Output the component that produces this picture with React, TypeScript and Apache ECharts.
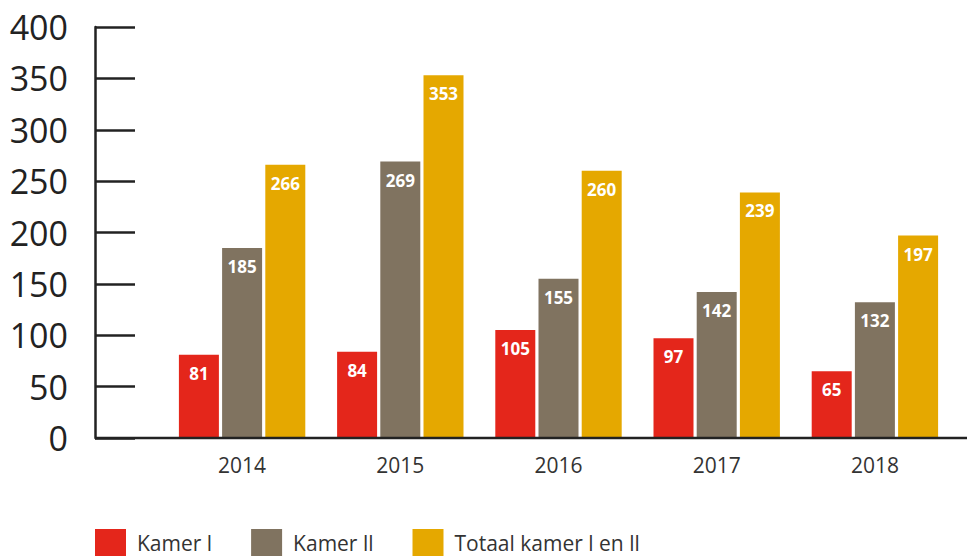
import React, { useEffect, useRef } from "react";
import * as echarts from "echarts";

const years = ["2014", "2015", "2016", "2017", "2018"];
const kamerI = [81, 84, 105, 97, 65];
const kamerII = [185, 269, 155, 142, 132];
const totaal = [266, 353, 260, 239, 197];
const seriesNames = ["Kamer l", "Kamer ll", "Totaal kamer l en ll"];
const colors = ["#e4261b", "#807360", "#e5a800"];

const FONT = "'Open Sans', 'Noto Sans', sans-serif";

export default function App() {
  const ref = useRef<HTMLDivElement>(null);
  useEffect(() => {
    document.body.style.margin = "0";
    if (!ref.current) return;
    const chart = echarts.init(ref.current, undefined, { renderer: "svg" });
    const data = [kamerI, kamerII, totaal];
    chart.setOption({
      animation: false,
      textStyle: { fontFamily: FONT },
      grid: { left: 163, right: 13, top: 27, bottom: 118, containLabel: false },
      legend: {
        left: 95,
        top: 529,
        padding: 0,
        itemWidth: 31,
        itemHeight: 28,
        itemGap: 39,
        icon: "rect",
        data: seriesNames,
        textStyle: {
          fontSize: 21,
          lineHeight: 22,
          color: "#333",
          fontFamily: FONT,
          padding: [0, 0, 0, 6],
        },
      },
      xAxis: {
        type: "category",
        data: years,
        axisLine: { show: false },
        axisTick: { show: false },
        axisLabel: { fontSize: 21, color: "#333", margin: 16, fontFamily: FONT },
      },
      yAxis: {
        type: "value",
        min: 0,
        max: 400,
        interval: 50,
        offset: 68,
        axisLine: { show: true, lineStyle: { color: "#222", width: 2.5 } },
        axisTick: { show: true, inside: true, length: 40, lineStyle: { color: "#222", width: 2.5 } },
        splitLine: { show: false },
        axisLabel: { fontSize: 34, color: "#222", margin: 27, fontFamily: FONT },
      },
      graphic: [
        {
          type: "line",
          shape: { x1: 95, y1: 438, x2: 967, y2: 438 },
          style: { stroke: "#222", lineWidth: 2.5 },
          z: 100,
        },
      ],
      series: seriesNames.map((name, i) => ({
        name,
        type: "bar",
        data: data[i],
        barWidth: 40,
        barGap: "8%",
        itemStyle: { color: colors[i] },
        label: {
          show: true,
          position: "insideTop",
          distance: 10,
          color: "#fff",
          fontWeight: "bold",
          fontSize: 17,
          fontFamily: FONT,
        },
      })),
    });
    return () => chart.dispose();
  }, []);
  return <div ref={ref} style={{ width: 967, height: 556 }} />;
}
